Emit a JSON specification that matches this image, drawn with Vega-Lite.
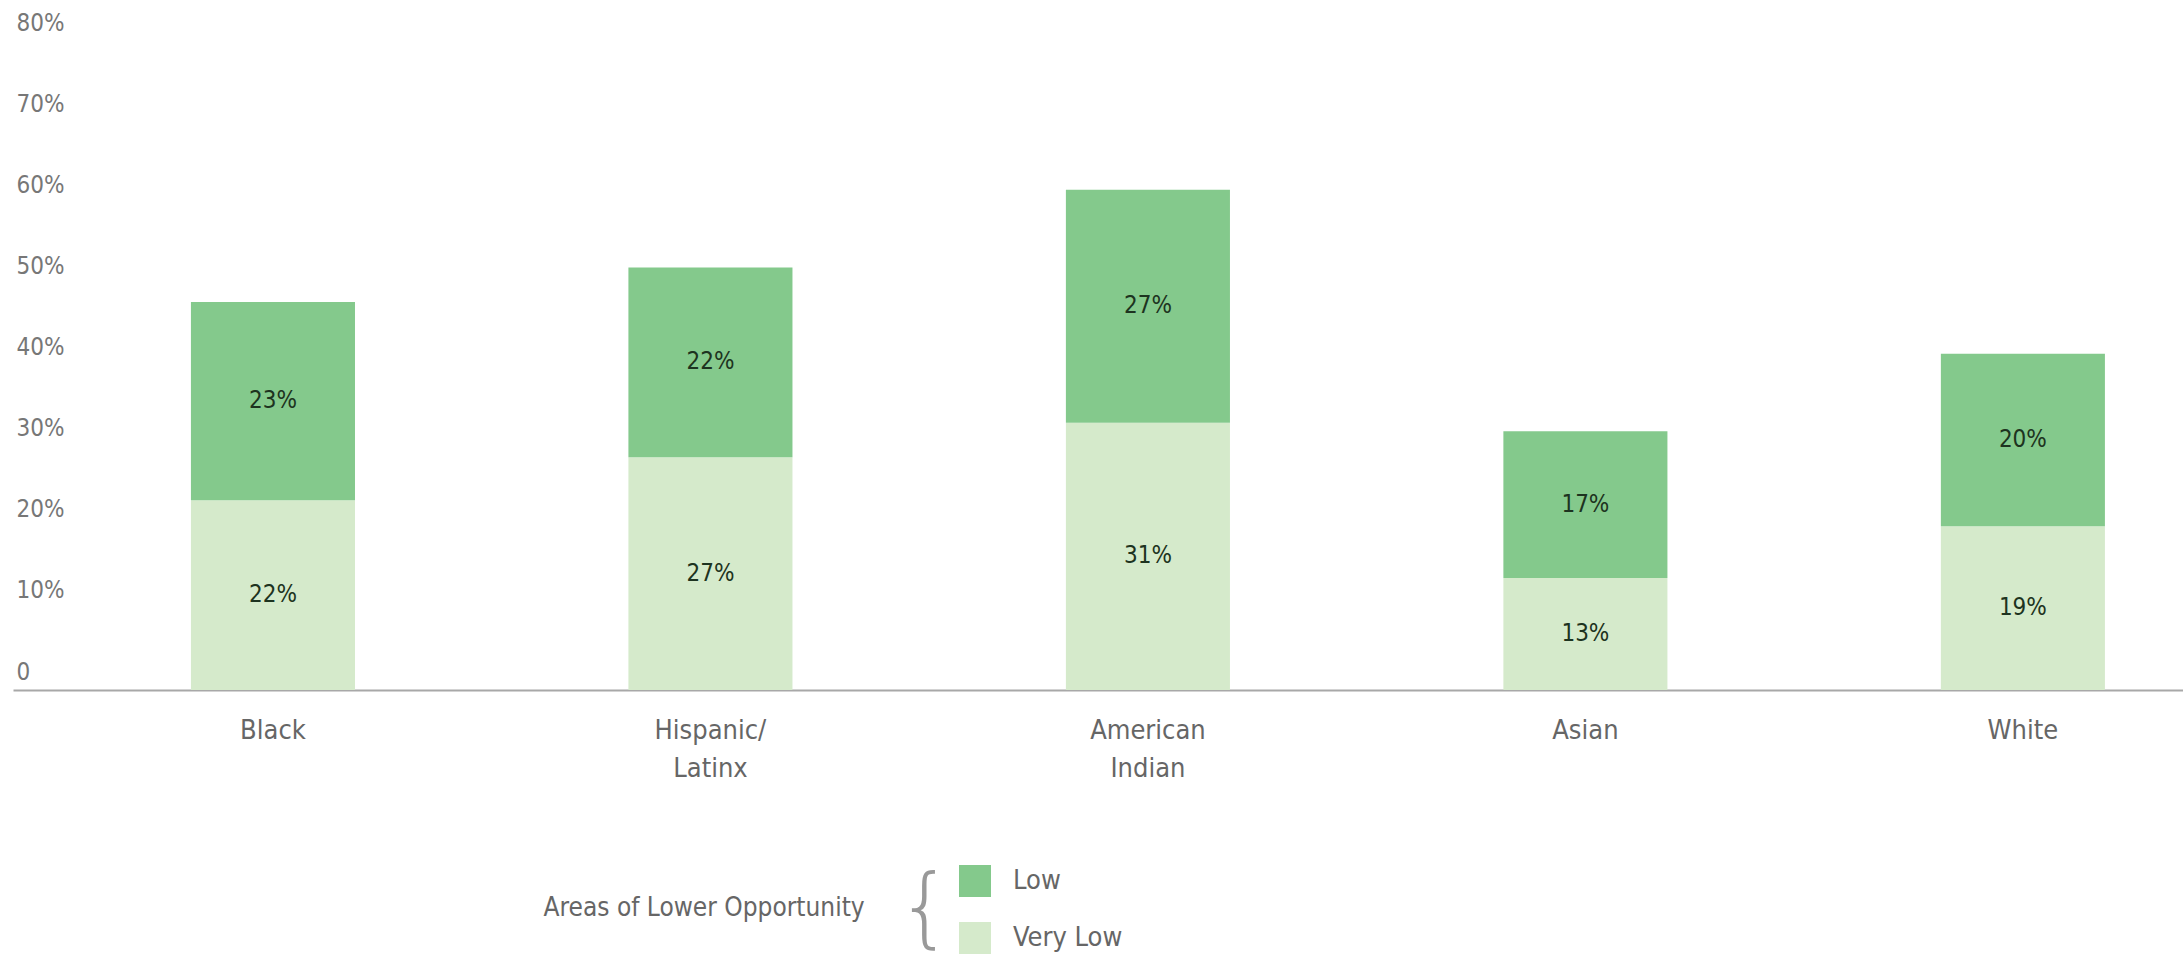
{
  "$schema": "https://vega.github.io/schema/vega-lite/v6.json",
  "width": 2170,
  "height": 690,
  "autosize": {"type": "none"},
  "padding": {"left": 13, "top": 0, "right": 0, "bottom": 266},
  "background": "white",
  "config": {
    "view": {"stroke": null},
    "font": "Liberation Sans Narrow, DejaVu Sans Condensed, sans-serif"
  },
  "data": {
    "values": [
      {"group": "Black", "level": "Very Low", "pct": 0.22},
      {"group": "Black", "level": "Low", "pct": 0.23},
      {"group": "Hispanic/Latinx", "level": "Very Low", "pct": 0.27},
      {"group": "Hispanic/Latinx", "level": "Low", "pct": 0.22},
      {"group": "American Indian", "level": "Very Low", "pct": 0.31},
      {"group": "American Indian", "level": "Low", "pct": 0.27},
      {"group": "Asian", "level": "Very Low", "pct": 0.13},
      {"group": "Asian", "level": "Low", "pct": 0.17},
      {"group": "White", "level": "Very Low", "pct": 0.19},
      {"group": "White", "level": "Low", "pct": 0.20}
    ]
  },
  "transform": [
    {"stack": "pct", "groupby": ["group"], "sort": [{"field": "level", "order": "descending"}], "as": ["v0", "v1"]}
  ],
  "encoding": {
    "x": {
      "field": "group",
      "type": "nominal",
      "sort": ["Black", "Hispanic/Latinx", "American Indian", "Asian", "White"],
      "scale": {"paddingInner": 0.625, "paddingOuter": 0.2926, "align": 0.695},
      "axis": {
        "title": "Areas of Lower Opportunity",
        "titleX": 530,
        "titleY": 217,
        "titleAlign": "left",
        "titleAnchor": "start",
        "titleBaseline": "middle",
        "titleFontSize": 26,
        "titleFontWeight": "normal",
        "titleColor": "#666666",
        "labelAngle": 0,
        "labelExpr": "datum.value == 'Hispanic/Latinx' ? ['Hispanic/', 'Latinx'] : datum.value == 'American Indian' ? ['American', 'Indian'] : datum.label",
        "labelFontSize": 27,
        "labelColor": "#666666",
        "labelLineHeight": 38,
        "labelPadding": 27,
        "ticks": false,
        "tickSize": 0,
        "domainColor": "#a8a8a8",
        "domainWidth": 2,
        "labelLimit": 400
      }
    }
  },
  "layer": [
    {
      "mark": {"type": "bar"},
      "encoding": {
        "y": {
          "field": "v0",
          "type": "quantitative",
          "scale": {"domain": [0, 0.8], "nice": false},
          "axis": {
            "title": null,
            "values": [0, 0.1, 0.2, 0.3, 0.4, 0.5, 0.6, 0.7, 0.8],
            "labelExpr": "datum.value == 0 ? '0' : format(datum.value, '.0%')",
            "labelAlign": "left",
            "labelBaseline": "middle",
            "labelPadding": -3,
            "labelOffset": {"expr": "51.5 * datum.value - 18"},
            "ticks": false,
            "tickSize": 0,
            "domain": false,
            "grid": false,
            "labelFontSize": 24,
            "labelColor": "#777777"
          }
        },
        "y2": {"field": "v1"},
        "color": {
          "field": "level",
          "type": "nominal",
          "scale": {"domain": ["Low", "Very Low"], "range": ["#84c98c", "#d5eacb"]},
          "legend": {
            "orient": "none",
            "legendX": 884,
            "legendY": 865,
            "title": "{",
            "titleOrient": "left",
            "titleAnchor": "middle",
            "titleBaseline": "middle",
            "titleFont": "DejaVu Sans",
            "titleFontSize": 88,
            "titleFontWeight": 200,
            "titleColor": "#999999",
            "titlePadding": 6,
            "symbolType": "square",
            "symbolSize": 1024,
            "symbolStrokeWidth": 0,
            "labelFontSize": 27,
            "labelColor": "#666666",
            "labelOffset": 22,
            "rowPadding": 25
          }
        }
      }
    },
    {
      "transform": [{"fold": ["v0", "v1"], "as": ["edge", "pos"]}],
      "mark": {"type": "text", "fontSize": 24, "color": "#1d3320", "baseline": "middle"},
      "encoding": {
        "y": {"aggregate": "mean", "field": "pos", "type": "quantitative"},
        "detail": {"field": "level"},
        "text": {"field": "pct", "type": "quantitative", "format": ".0%"}
      }
    }
  ]
}
